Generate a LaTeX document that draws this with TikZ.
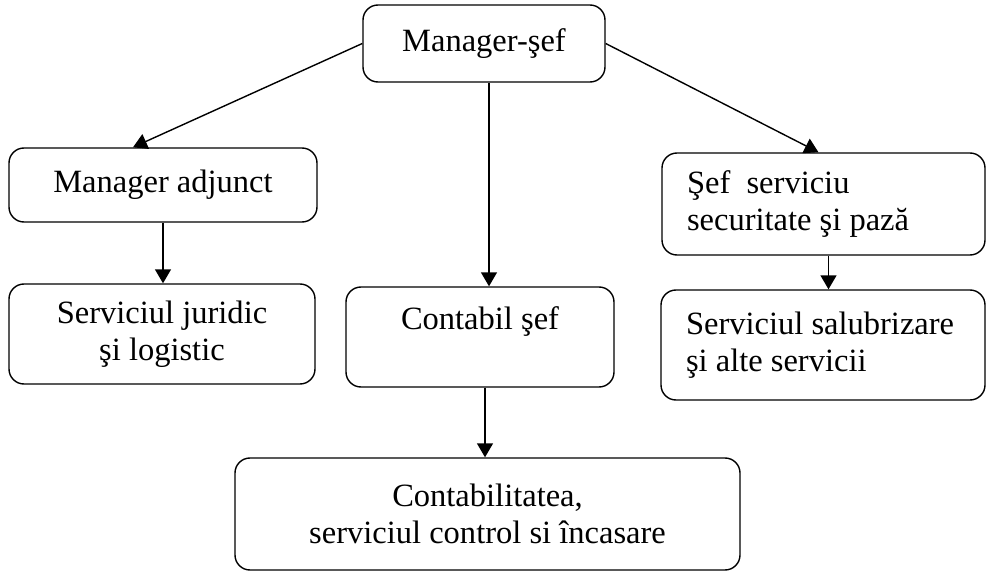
\documentclass[tikz,border=0pt]{standalone}
\usepackage{fontspec}
\setmainfont{Liberation Serif}
\usetikzlibrary{arrows.meta,positioning,calc}

\begin{document}
\begin{tikzpicture}[
		box/.style={draw, thick, rounded corners=0.3cm, align=flush center, inner sep=0pt,
			font=\fontsize{18.5}{21}\selectfont},
		leftbox/.style={box, align=flush left, inner xsep=0.5cm},
		arr/.style={thick, -{Triangle[length=2.8mm,width=3.2mm]}}
	]
	\useasboundingbox (0,0) rectangle (19.74,11.42);
	
	% Top
	\node[box, minimum width=4.84cm, minimum height=1.54cm] (boss) at (9.68,10.55) {Manager-şef};
	
	% Second level
	\node[box, minimum width=6.16cm, minimum height=1.48cm] (adj) at (3.26,7.72) {Manager adjunct};
	\node[leftbox, text width=5.46cm, minimum height=2.04cm] (sec) at (16.47,7.34) {Şef~ serviciu\\securitate şi pază};
	
	% Third level
	\node[box, minimum width=6.12cm, minimum height=2.0cm] (jur) at (3.24,4.74) {Serviciul juridic\\şi logistic};
	\node[box, minimum width=5.36cm, minimum height=2.0cm, text depth=0.75cm] (cont) at (9.6,4.68) {Contabil şef};
	\node[leftbox, text width=5.48cm, minimum height=2.2cm] (salub) at (16.46,4.52) {Serviciul salubrizare\\şi alte servicii};
	
	% Bottom
	\node[box, minimum width=10.1cm, minimum height=2.24cm] (acct) at (9.75,1.14) {Contabilitatea,\\serviciul control si încasare};
	
	% Arrows
	\draw[arr] (boss.west) -- ([xshift=-0.6cm]adj.north);
	\draw[arr] (boss.east) -- ([xshift=-0.1cm]sec.north);
	\draw[arr] ([xshift=0.1cm]boss.south) -- ([xshift=0.1cm]boss.south |- cont.north);
	\draw[arr] (adj.south) -- (adj.south |- jur.north);
	\draw[arr] ([xshift=0.1cm]sec.south) -- ([xshift=0.1cm]sec.south |- salub.north);
	\draw[arr] ([xshift=0.1cm]cont.south) -- ([xshift=0.1cm]cont.south |- acct.north);
\end{tikzpicture}
\end{document}
